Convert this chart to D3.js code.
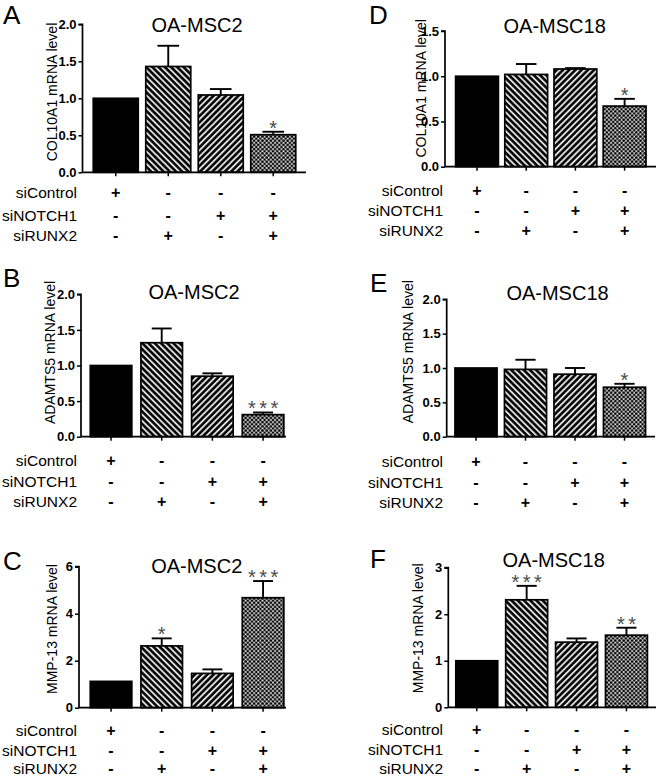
<!DOCTYPE html>
<html><head><meta charset="utf-8">
<script src="https://cdn.jsdelivr.net/npm/d3@7"></script>
<style>
html,body{margin:0;padding:0;background:#fff;}
svg{display:block;font-family:"Liberation Sans",Arial,sans-serif;}
</style></head>
<body>
<svg id="chart" width="660" height="779"></svg>
<script>
// ---------- data ----------
const conditions = ["c1","c2","c3","c4"];
const rowLabels = ["siControl","siNOTCH1","siRUNX2"];
const siControlSigns = ["+","-","-","-"];
const siNOTCH1Signs  = ["-","-","+","+"];
const siRUNX2Signs   = ["-","+","-","+"];

const panelLetters = ["A","B","C","D","E","F"];
const panelTitles  = ["OA-MSC2","OA-MSC2","OA-MSC2","OA-MSC18","OA-MSC18","OA-MSC18"];
const yAxisTitles  = ["COL10A1 mRNA level","ADAMTS5 mRNA level","MMP-13 mRNA level",
                      "COL10A1 mRNA level","ADAMTS5 mRNA level","MMP-13 mRNA level"];

const meansA = [1.00, 1.43, 1.045, 0.508];
const errA   = [0.00, 0.28, 0.08, 0.04];
const starsA = ["", "", "", "*"];
const ticksA = [0, 0.5, 1.0, 1.5, 2.0];

const meansB = [1.00, 1.32, 0.85, 0.31];
const errB   = [0.00, 0.20, 0.04, 0.03];
const starsB = ["", "", "", "***"];
const ticksB = [0, 0.5, 1.0, 1.5, 2.0];

const meansC = [1.12, 2.63, 1.46, 4.68];
const errC   = [0.00, 0.32, 0.17, 0.71];
const starsC = ["", "*", "", "***"];
const ticksC = [0, 2, 4, 6];

const meansD = [1.00, 1.02, 1.08, 0.67];
const errD   = [0.00, 0.115, 0.01, 0.08];
const starsD = ["", "", "", "*"];
const ticksD = [0, 0.5, 1.0, 1.5];

const meansE = [1.00, 0.98, 0.91, 0.72];
const errE   = [0.00, 0.14, 0.09, 0.05];
const starsE = ["", "", "", "*"];
const ticksE = [0, 0.5, 1.0, 1.5, 2.0];

const meansF = [1.00, 2.31, 1.40, 1.55];
const errF   = [0.00, 0.30, 0.08, 0.16];
const starsF = ["", "***", "", "**"];
const ticksF = [0, 1, 2, 3];

// ---------- layout (geometry only) ----------
const layouts = [
  {axisX:82.5, y0:172.3, yTop:24.3, band:[89.5,299.5], pad:0.143, axisEnd:306, title:[197,32], letter:[3,24], ylab:[52,92], rowX:77, rowY:[192,215.5,235.5], fmt:".1f"},
  {axisX:81, y0:436.7, yTop:294.3, band:[85.7,288.4], pad:0.18, axisEnd:286, title:[194,299.3], letter:[3,286.7], ylab:[50,352.5], rowX:77, rowY:[460,481.7,501.7], fmt:".1f"},
  {axisX:79, y0:707.7, yTop:566.7, band:[85.7,288.4], pad:0.18, axisEnd:286, title:[196.7,573.3], letter:[3,570], ylab:[52,629], rowX:77, rowY:[730,750,768.3], fmt:"d"},
  {axisX:445, y0:166.7, yTop:31, band:[452.4,649.2], pad:0.13, axisEnd:656, title:[554.7,33.3], letter:[369,24], ylab:[421,88.3], rowX:443, rowY:[190,210.5,230], fmt:".1f"},
  {axisX:446.7, y0:436.7, yTop:299.3, band:[451.25,649.25], pad:0.15, axisEnd:655, title:[557.5,300], letter:[370,291.7], ylab:[408,351.7], rowX:443, rowY:[461.7,482.7,502.7], fmt:".1f"},
  {axisX:448.3, y0:707.3, yTop:567.7, band:[451.8,651.4], pad:0.16, axisEnd:656, title:[553.7,566.7], letter:[370,568.3], ylab:[418,628.3], rowX:443, rowY:[729.3,749.3,768.3], fmt:"d"}
];
const panelData = [
  {means:meansA, err:errA, stars:starsA, ticks:ticksA},
  {means:meansB, err:errB, stars:starsB, ticks:ticksB},
  {means:meansC, err:errC, stars:starsC, ticks:ticksC},
  {means:meansD, err:errD, stars:starsD, ticks:ticksD},
  {means:meansE, err:errE, stars:starsE, ticks:ticksE},
  {means:meansF, err:errF, stars:starsF, ticks:ticksF}
];
const signRows = [siControlSigns, siNOTCH1Signs, siRUNX2Signs];

// ---------- patterns ----------
const svg = d3.select("#chart");
svg.append("rect").attr("width",660).attr("height",779).attr("fill","#fff");
const defs = svg.append("defs");
function stripes(id, angle){
  const p = defs.append("pattern").attr("id",id).attr("patternUnits","userSpaceOnUse")
    .attr("width",4.4).attr("height",4.4).attr("patternTransform",`rotate(${angle})`);
  p.append("rect").attr("width",4.4).attr("height",4.4).attr("fill","#000");
  p.append("rect").attr("x",0).attr("width",1.9).attr("height",4.4).attr("fill","#dedede");
}
stripes("back", -45);   // "\\" lines
stripes("fwd", 45);     // "/" lines
const dots = defs.append("pattern").attr("id","dots").attr("patternUnits","userSpaceOnUse")
  .attr("width",4.2).attr("height",4.2);
dots.append("rect").attr("width",4.2).attr("height",4.2).attr("fill","#e6e6e6");
[[0,0],[4.2,0],[0,4.2],[4.2,4.2],[2.1,2.1]].forEach(([cx,cy])=>
  dots.append("circle").attr("cx",cx).attr("cy",cy).attr("r",1.35).attr("fill","#000"));
const fills = ["#000","url(#back)","url(#fwd)","url(#dots)"];

// ---------- panels ----------
layouts.forEach((L,i)=>{
  const D = panelData[i];
  const g = svg.append("g");
  const maxV = D.ticks[D.ticks.length-1];
  const y = d3.scaleLinear().domain([0,maxV]).range([L.y0, L.yTop]);
  const x = d3.scaleBand().domain(conditions).range(L.band).paddingInner(L.pad).paddingOuter(L.pad/2);

  // bars
  g.selectAll("rect.bar").data(D.means).join("rect").attr("class","bar")
    .attr("x",(d,j)=>x(conditions[j])).attr("width",x.bandwidth())
    .attr("y",d=>y(d)).attr("height",d=>L.y0-y(d))
    .attr("fill",(d,j)=>fills[j]).attr("stroke","#000").attr("stroke-width",1.7);

  // error bars (upper only)
  D.means.forEach((m,j)=>{
    if(D.err[j] <= 0) return;
    const cx = x(conditions[j]) + x.bandwidth()/2;
    const top = y(m + D.err[j]);
    g.append("line").attr("x1",cx).attr("x2",cx).attr("y1",y(m)).attr("y2",top)
      .attr("stroke","#000").attr("stroke-width",1.9);
    const hw = x.bandwidth()*0.24;
    g.append("line").attr("x1",cx-hw).attr("x2",cx+hw).attr("y1",top).attr("y2",top)
      .attr("stroke","#000").attr("stroke-width",1.9);
  });

  // stars
  D.stars.forEach((s,j)=>{
    if(!s) return;
    const cx = x(conditions[j]) + x.bandwidth()/2;
    const top = y(D.means[j] + D.err[j]);
    const ls = s.length>1 ? 3.5 : 0;
    g.append("text").attr("x",cx + ls/2).attr("y",top+3).attr("text-anchor","middle")
      .attr("font-size",20).attr("fill","#4a4a4a").attr("letter-spacing", ls)
      .text(s);
  });

  // y axis
  const yAxis = d3.axisLeft(y).tickValues(D.ticks).tickFormat(d3.format(L.fmt)).tickSize(4).tickPadding(2);
  const ga = g.append("g").attr("transform",`translate(${L.axisX},0)`).call(yAxis);
  ga.select(".domain").attr("d",`M-4,${L.yTop}H0V${L.y0}`).attr("stroke-width",1.7);
  ga.selectAll(".tick line").attr("stroke-width",1.5);
  ga.selectAll(".tick text").attr("font-size",13).attr("font-weight","bold")
    .attr("font-family","'Liberation Sans',Arial,sans-serif").attr("fill","#000");

  // x axis
  const xAxis = d3.axisBottom(x).tickSize(4).tickFormat("");
  const gx = g.append("g").attr("transform",`translate(0,${L.y0})`).call(xAxis);
  gx.select(".domain").attr("d",`M${L.axisX},0H${L.axisEnd}`).attr("stroke-width",1.7);
  gx.selectAll(".tick line").attr("stroke-width",1.5);

  // y axis title
  g.append("text").attr("transform",`translate(${L.ylab[0]},${L.ylab[1]}) rotate(-90)`)
    .attr("text-anchor","middle").attr("dominant-baseline","central")
    .attr("font-size",14).attr("fill","#000").text(yAxisTitles[i]);

  // panel title
  g.append("text").attr("x",L.title[0]).attr("y",L.title[1]).attr("text-anchor","middle")
    .attr("font-size",20).attr("fill","#000").text(panelTitles[i]);

  // panel letter
  g.append("text").attr("x",L.letter[0]).attr("y",L.letter[1])
    .attr("font-size",26).attr("fill","#000").text(panelLetters[i]);

  // treatment rows
  rowLabels.forEach((lab,r)=>{
    g.append("text").attr("x",L.rowX).attr("y",L.rowY[r]).attr("text-anchor","end")
      .attr("dominant-baseline","central").attr("font-size",15.5).attr("fill","#000").text(lab);
    signRows[r].forEach((s,j)=>{
      const cx = x(conditions[j]) + x.bandwidth()/2;
      g.append("text").attr("x",cx).attr("y",L.rowY[r]).attr("text-anchor","middle")
        .attr("dominant-baseline","central").attr("font-size",16)
        .attr("font-weight", "bold").attr("fill","#000").text(s);
    });
  });
});
</script>
</body></html>
